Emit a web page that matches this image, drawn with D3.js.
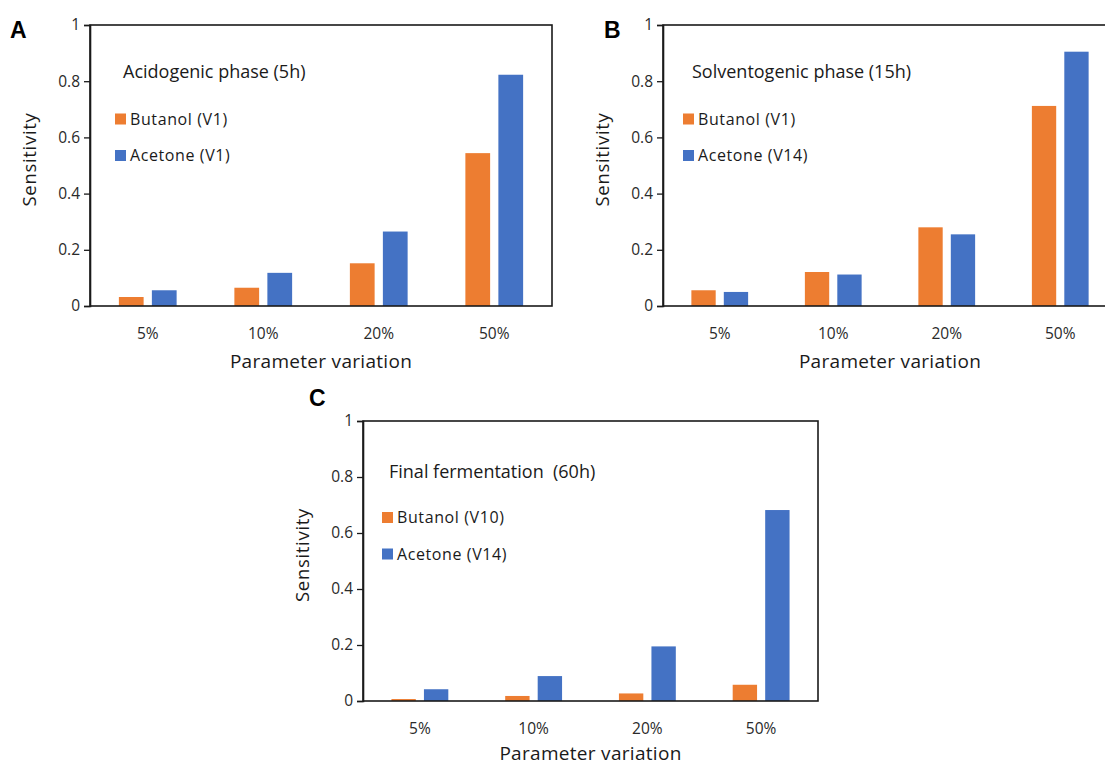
<!DOCTYPE html>
<html>
<head>
<meta charset="utf-8">
<script src="https://cdn.jsdelivr.net/npm/d3@7"></script>
<style>
  html, body { margin: 0; padding: 0; background: #fff; }
  svg { display: block; }
  text { font-family: "Open Sans", "Noto Sans", sans-serif; }
</style>
</head>
<body>
<svg id="chart" width="1105" height="765"></svg>
<script>
// ---------- data ----------
const categories = ["5%", "10%", "20%", "50%"];
const seriesNames = ["Butanol", "Acetone"];

const butanolA = [0.032, 0.065, 0.152, 0.544];
const acetoneA = [0.056, 0.118, 0.265, 0.823];

const butanolB = [0.056, 0.121, 0.280, 0.712];
const acetoneB = [0.050, 0.112, 0.255, 0.905];

const butanolC = [0.007, 0.018, 0.027, 0.058];
const acetoneC = [0.042, 0.089, 0.195, 0.682];

const yTicks = [0, 0.2, 0.4, 0.6, 0.8, 1];
const yTickLabels = ["0", "0.2", "0.4", "0.6", "0.8", "1"];

const titleA = "Acidogenic phase (5h)";
const titleB = "Solventogenic phase (15h)";
const titleC = "Final fermentation  (60h)";
const legendA = ["Butanol (V1)", "Acetone (V1)"];
const legendB = ["Butanol (V1)", "Acetone (V14)"];
const legendC = ["Butanol (V10)", "Acetone (V14)"];

const xTitle = "Parameter variation";
const yTitle = "Sensitivity";

// ---------- style ----------
const colors = { Butanol: "#ED7D31", Acetone: "#4472C4" };

const svg = d3.select("#chart");
svg.append("rect").attr("width", 1105).attr("height", 765).attr("fill", "#fff");

const panels = [
  { letter: "A", butanol: butanolA, acetone: acetoneA, title: titleA, legend: legendA,
    left: 90, top: 25, width: 462, height: 281,
    letterPos: [10, 38], titlePos: [33, 47], legendPos: [25, 93.5], xTitleOff: 55 },
  { letter: "B", butanol: butanolB, acetone: acetoneB, title: titleB, legend: legendB,
    left: 663, top: 25, width: 454, height: 281,
    letterPos: [604, 38], titlePos: [29, 47], legendPos: [20, 93.5], xTitleOff: 55 },
  { letter: "C", butanol: butanolC, acetone: acetoneC, title: titleC, legend: legendC,
    left: 363, top: 421, width: 455, height: 280,
    letterPos: [309, 406], titlePos: [26, 51], legendPos: [19, 96], xTitleOff: 52 }
];

panels.forEach(p => {
  const g = svg.append("g").attr("transform", `translate(${p.left},${p.top})`);

  const x0 = d3.scaleBand().domain(categories).range([0, p.width])
    .paddingInner(0.5).paddingOuter(0.25);
  const x1 = d3.scaleBand().domain(seriesNames).range([0, x0.bandwidth()])
    .paddingInner(0.25);
  const y = d3.scaleLinear().domain([0, 1]).range([p.height, 0]);

  const rows = categories.map((c, i) => ({
    cat: c,
    vals: [
      { s: "Butanol", v: p.butanol[i] },
      { s: "Acetone", v: p.acetone[i] }
    ]
  }));

  // bars
  const grp = g.selectAll("g.cat").data(rows).join("g")
    .attr("class", "cat")
    .attr("transform", d => `translate(${x0(d.cat)},0)`);
  grp.selectAll("rect").data(d => d.vals).join("rect")
    .attr("x", d => x1(d.s))
    .attr("width", x1.bandwidth())
    .attr("y", d => y(d.v))
    .attr("height", d => y(0) - y(d.v))
    .attr("fill", d => colors[d.s]);

  // frame
  g.append("rect")
    .attr("x", 0).attr("y", 0)
    .attr("width", p.width).attr("height", p.height)
    .attr("fill", "none").attr("stroke", "#1a1a1a").attr("stroke-width", 1.6);

  // y axis
  const yAxis = d3.axisLeft(y).tickValues(yTicks).tickSize(6)
    .tickFormat((d, i) => yTickLabels[i]);
  const ya = g.append("g").call(yAxis);
  ya.select(".domain").attr("stroke", "#1a1a1a").attr("stroke-width", 1.6);
  ya.selectAll(".tick line").attr("stroke", "#1a1a1a").attr("stroke-width", 1.3);
  ya.selectAll(".tick text")
    .attr("x", -10)
    .style("font-size", "15.5px").attr("fill", "#2a2a2a")
    .style("font-family", "'Open Sans', sans-serif");

  // x axis labels (no ticks)
  const xAxis = d3.axisBottom(x0).tickSize(0).tickPadding(0);
  const xa = g.append("g").attr("transform", `translate(0,${p.height})`).call(xAxis);
  xa.select(".domain").remove();
  xa.selectAll(".tick text")
    .attr("y", 28).attr("dy", "0.35em")
    .style("font-size", "15.5px").attr("fill", "#2a2a2a")
    .style("font-family", "'Open Sans', sans-serif");

  // axis titles
  g.append("text")
    .attr("x", p.width / 2).attr("y", p.height + p.xTitleOff)
    .attr("dy", "0.35em").attr("text-anchor", "middle")
    .style("font-size", "19px").attr("fill", "#1a1a1a")
    .style("letter-spacing", "0.3px")
    .text(xTitle);
  g.append("text")
    .attr("transform", `translate(-60,${p.height / 2 - 6}) rotate(-90)`)
    .attr("dy", "0.35em").attr("text-anchor", "middle")
    .style("font-size", "18.5px").attr("fill", "#1a1a1a")
    .style("letter-spacing", "0.7px")
    .text(yTitle);

  // title inside plot
  g.append("text")
    .attr("x", p.titlePos[0]).attr("y", p.titlePos[1])
    .attr("dy", "0.35em")
    .style("font-size", "18px").attr("fill", "#1a1a1a")
    .style("white-space", "pre")
    .attr("xml:space", "preserve")
    .text(p.title);

  // legend
  const lg = g.append("g").attr("transform", `translate(${p.legendPos[0]},${p.legendPos[1]})`);
  seriesNames.forEach((s, i) => {
    lg.append("rect")
      .attr("x", 0).attr("y", i * 36.5 - 5)
      .attr("width", 11).attr("height", 11)
      .attr("fill", colors[s]);
    lg.append("text")
      .attr("x", 15).attr("y", i * 36.5 + 0.5)
      .attr("dy", "0.35em")
      .style("font-size", "16px").attr("fill", "#1a1a1a")
      .style("letter-spacing", "0.6px")
      .text(p.legend[i]);
  });

  // panel letter
  svg.append("text")
    .attr("x", p.letterPos[0]).attr("y", p.letterPos[1])
    .style("font-family", "'Liberation Sans', Arial, sans-serif")
    .style("font-weight", "bold").style("font-size", "23px")
    .attr("fill", "#000")
    .text(p.letter);
});
</script>
</body>
</html>
